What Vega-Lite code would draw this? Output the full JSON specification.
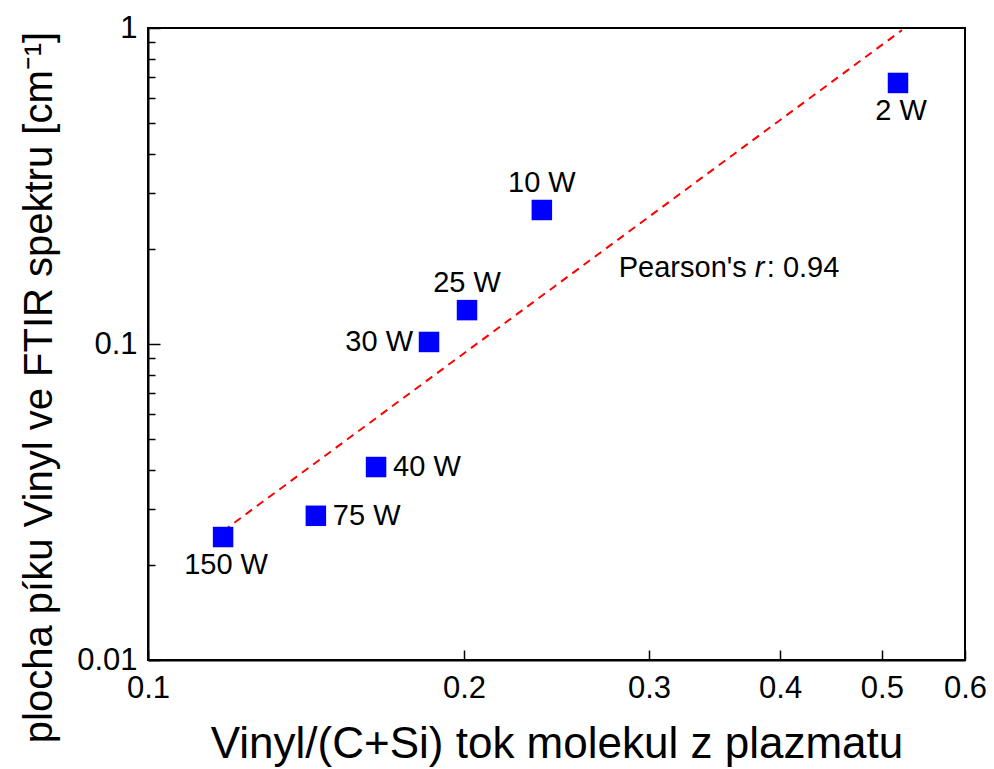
{
  "$schema": "https://vega.github.io/schema/vega-lite/v6.json",
  "width": 817,
  "height": 632,
  "autosize": "none",
  "padding": {"left": 148, "top": 28, "right": 29, "bottom": 109},
  "background": "white",
  "config": {
    "font": "Liberation Sans",
    "view": {"stroke": "black", "strokeWidth": 2}
  },
  "datasets": {
    "points": [
      {"x": 0.1179, "y": 0.0245, "label": "150 W"},
      {"x": 0.1445, "y": 0.0286, "label": "75 W"},
      {"x": 0.1649, "y": 0.0408, "label": "40 W"},
      {"x": 0.1852, "y": 0.1015, "label": "30 W"},
      {"x": 0.2013, "y": 0.128, "label": "25 W"},
      {"x": 0.2372, "y": 0.2655, "label": "10 W"},
      {"x": 0.518, "y": 0.67, "label": "2 W"}
    ],
    "fit": [
      {"x": 0.1179, "y": 0.0256},
      {"x": 0.5226, "y": 0.985}
    ],
    "note": [
      {"x": 0.3784, "y": 0.174}
    ]
  },
  "layer": [
    {
      "data": {"name": "fit"},
      "mark": {"type": "line", "color": "#ff0000", "strokeWidth": 2, "strokeDash": [8, 6]},
      "encoding": {
        "x": {
          "field": "x", "type": "quantitative",
          "scale": {"type": "log", "domain": [0.1, 0.6], "nice": false},
          "axis": {
            "values": [0.1, 0.2, 0.3, 0.4, 0.5, 0.6],
            "format": "~g",
            "grid": false,
            "domainColor": "black",
            "domainWidth": 2,
            "tickColor": "black",
            "tickWidth": 1.5,
            "tickSize": -10,
            "labelColor": "black",
            "labelFont": "Liberation Sans",
            "labelFontSize": 31,
            "labelPadding": 23,
            "labelOverlap": false,
            "labelBound": false,
            "labelFlush": false,
            "title": "Vinyl/(C+Si) tok molekul z plazmatu",
            "titleFont": "Liberation Sans",
            "titleFontSize": 44,
            "titleFontWeight": "normal",
            "titleColor": "black",
            "titlePadding": 19
          }
        },
        "y": {
          "field": "y", "type": "quantitative",
          "scale": {"type": "log", "domain": [0.01, 1], "nice": false},
          "axis": {
            "values": [0.01, 0.02, 0.03, 0.04, 0.05, 0.06, 0.07, 0.08, 0.09, 0.1, 0.2, 0.3, 0.4, 0.5, 0.6, 0.7, 0.8, 0.9, 1],
            "labelExpr": "indexof([0.01, 0.1, 1], datum.value) >= 0 ? datum.label : ''",
            "format": "~g",
            "grid": false,
            "domainColor": "black",
            "domainWidth": 2,
            "tickColor": "black",
            "tickWidth": 1.5,
            "tickSize": {"condition": {"test": "indexof([0.01, 0.1, 1], datum.value) >= 0", "value": -12}, "value": -7},
            "labelColor": "black",
            "labelFont": "Liberation Sans",
            "labelFontSize": 31,
            "labelPadding": 23,
            "labelOverlap": false,
            "labelBound": false,
            "labelFlush": false,
            "title": "plocha píku Vinyl ve FTIR spektru [cm⁻¹]",
            "titleFont": "Liberation Sans",
            "titleFontSize": 40,
            "titleFontWeight": "normal",
            "titleColor": "black",
            "titleX": -89,
            "titleY": 359
          }
        }
      }
    },
    {
      "data": {"name": "points"},
      "mark": {"type": "square", "color": "#0000ff", "opacity": 1, "size": 420},
      "encoding": {
        "x": {"field": "x", "type": "quantitative"},
        "y": {"field": "y", "type": "quantitative"}
      }
    },
    {
      "data": {"name": "points"},
      "transform": [{"filter": {"field": "label", "oneOf": ["150 W", "2 W"]}}],
      "mark": {"type": "text", "fontSize": 29, "color": "black", "baseline": "middle", "align": "center", "dy": 28, "dx": 3},
      "encoding": {
        "x": {"field": "x", "type": "quantitative"},
        "y": {"field": "y", "type": "quantitative"},
        "text": {"field": "label"}
      }
    },
    {
      "data": {"name": "points"},
      "transform": [{"filter": {"field": "label", "oneOf": ["75 W", "40 W"]}}],
      "mark": {"type": "text", "fontSize": 29, "color": "black", "baseline": "middle", "align": "left", "dx": 17},
      "encoding": {
        "x": {"field": "x", "type": "quantitative"},
        "y": {"field": "y", "type": "quantitative"},
        "text": {"field": "label"}
      }
    },
    {
      "data": {"name": "points"},
      "transform": [{"filter": {"field": "label", "oneOf": ["30 W"]}}],
      "mark": {"type": "text", "fontSize": 29, "color": "black", "baseline": "middle", "align": "right", "dx": -16},
      "encoding": {
        "x": {"field": "x", "type": "quantitative"},
        "y": {"field": "y", "type": "quantitative"},
        "text": {"field": "label"}
      }
    },
    {
      "data": {"name": "points"},
      "transform": [{"filter": {"field": "label", "oneOf": ["25 W", "10 W"]}}],
      "mark": {"type": "text", "fontSize": 29, "color": "black", "baseline": "middle", "align": "center", "dy": -27},
      "encoding": {
        "x": {"field": "x", "type": "quantitative"},
        "y": {"field": "y", "type": "quantitative"},
        "text": {"field": "label"}
      }
    },
    {
      "data": {"name": "note"},
      "mark": {"type": "text", "fontSize": 29, "color": "black", "baseline": "middle", "align": "right", "dx": -8, "text": "Pearson's"},
      "encoding": {
        "x": {"field": "x", "type": "quantitative"},
        "y": {"field": "y", "type": "quantitative"}
      }
    },
    {
      "data": {"name": "note"},
      "mark": {"type": "text", "fontSize": 29, "color": "black", "baseline": "middle", "align": "left", "fontStyle": "italic", "text": "r"},
      "encoding": {
        "x": {"field": "x", "type": "quantitative"},
        "y": {"field": "y", "type": "quantitative"}
      }
    },
    {
      "data": {"name": "note"},
      "mark": {"type": "text", "fontSize": 29, "color": "black", "baseline": "middle", "align": "left", "dx": 12, "text": ": 0.94"},
      "encoding": {
        "x": {"field": "x", "type": "quantitative"},
        "y": {"field": "y", "type": "quantitative"}
      }
    }
  ]
}
